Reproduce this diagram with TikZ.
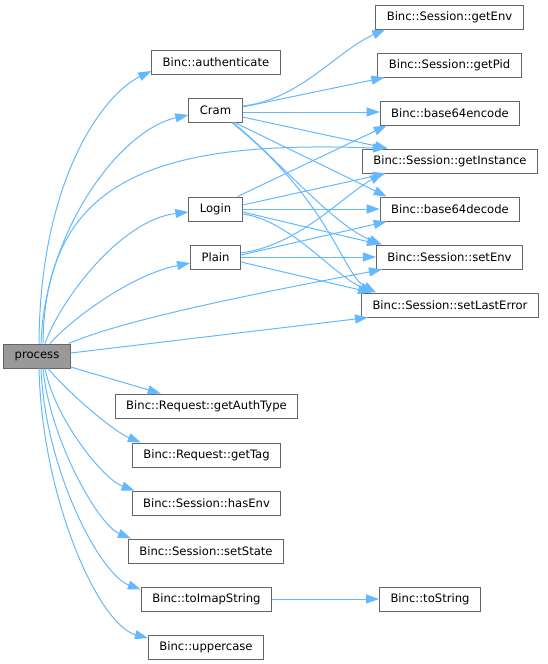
\documentclass[tikz,border=0pt]{standalone}
\usepackage{fontspec}
\setmainfont{DejaVu Sans}
\usetikzlibrary{arrows.meta,positioning}
\definecolor{edgeblue}{HTML}{63B8FF}
\definecolor{boxgray}{HTML}{666666}
\definecolor{procfill}{HTML}{999999}

\begin{document}
\begin{tikzpicture}[x=1pt,y=1pt,
    fn/.style={draw=boxgray, line width=1pt, fill=white, minimum height=24pt,
      inner xsep=11pt, inner ysep=0pt, font=\fontsize{11.6}{13}\selectfont},
    call/.style={draw=edgeblue, line width=1pt, -{Triangle[length=13pt,width=9pt]}}]
  \useasboundingbox (0,0) rectangle (547,-664);
  % caller
  \node[fn, fill=procfill] (process) at (37,-356) {process};
  % first level
  \node[fn] (auth) at (216,-62) {Binc::authenticate};
  \node[fn] (cram) at (215.5,-110) {Cram};
  \node[fn] (login) at (215.5,-209) {Login};
  \node[fn] (plain) at (215.5,-257) {Plain};
  \node[fn] (getauth) at (206.5,-406) {Binc::Request::getAuthType};
  \node[fn] (gettag) at (206.5,-455) {Binc::Request::getTag};
  \node[fn] (hasenv) at (206.5,-503) {Binc::Session::hasEnv};
  \node[fn] (setstate) at (206,-551) {Binc::Session::setState};
  \node[fn] (toimap) at (206.5,-599) {Binc::toImapString};
  \node[fn] (upper) at (206,-647) {Binc::uppercase};
  % second level
  \node[fn] (getenv) at (449.5,-17) {Binc::Session::getEnv};
  \node[fn] (getpid) at (449.5,-65) {Binc::Session::getPid};
  \node[fn] (b64enc) at (450,-113) {Binc::base64encode};
  \node[fn] (getinst) at (450,-161) {Binc::Session::getInstance};
  \node[fn] (b64dec) at (450,-209) {Binc::base64decode};
  \node[fn] (setenv) at (449.5,-257) {Binc::Session::setEnv};
  \node[fn] (setlasterr) at (450,-305) {Binc::Session::setLastError};
  \node[fn] (tostring) at (430,-599) {Binc::toString};

  % calls from process
  \draw[call] ([xshift=2pt]process.north) .. controls +(1,163) and +(-49,-24) .. ([yshift=-9pt]auth.west);
  \draw[call] ([xshift=4pt]process.north) .. controls +(4,113) and +(-68,-15) .. ([yshift=-5pt]cram.west);
  \draw[call] ([xshift=6pt]process.north) .. controls +(2,163) and +(-233,9) .. ([xshift=24pt]getinst.north west);
  \draw[call] ([xshift=8pt]process.north) .. controls +(15,43) and +(-68,-8) .. ([yshift=-3pt]login.west);
  \draw[call] ([xshift=13pt]process.north) .. controls +(20,23) and +(-60,-12) .. ([yshift=-6pt]plain.west);
  \draw[call] ([xshift=-2pt]process.north east) .. controls +(60,26) and +(-100,-19) .. ([xshift=6pt]setenv.south west);
  \draw[call] ([yshift=3pt]process.east) -- ([xshift=7pt]setlasterr.south west);
  \draw[call] ([yshift=-11pt]process.east) -- ([xshift=46pt]getauth.north west);
  \draw[call] ([xshift=11pt]process.south) .. controls +(22,-26) and +(-27,11) .. ([xshift=9pt]gettag.north west);
  \draw[call] ([xshift=8pt]process.south) .. controls +(10,-51) and +(-31,11) .. ([xshift=3pt]hasenv.north west);
  \draw[call] ([xshift=6pt]process.south) .. controls +(7,-71) and +(-33,14) .. ([xshift=3pt]setstate.north west);
  \draw[call] ([xshift=4pt]process.south) .. controls +(4,-101) and +(-41,15) .. ([yshift=-3pt]toimap.north west);
  \draw[call] ([xshift=2pt]process.south) .. controls +(3,-131) and +(-49,13) .. ([yshift=9pt]upper.west);

  % calls from Cram
  \draw[call] ([yshift=4pt]cram.east) .. controls +(57,6) and +(-48,-21) .. ([xshift=10pt]getenv.south west);
  \draw[call] ([yshift=3pt]cram.east) -- ([xshift=7pt]getpid.south west);
  \draw[call] ([yshift=-2pt]cram.east) -- ([yshift=1pt]b64enc.west);
  \draw[call] ([yshift=-7pt]cram.east) -- ([xshift=26pt]getinst.north west);
  \draw[call] ([xshift=-8pt]cram.south east) -- ([xshift=7pt]b64dec.north west);
  \draw[call] ([xshift=-10pt]cram.south east) .. controls +(42,-33) and +(-50,20) .. ([xshift=6pt]setenv.north west);
  \draw[call] ([xshift=-11pt]cram.south east) .. controls +(98,-78) and +(-33,18) .. ([xshift=15pt]setlasterr.north west);

  % calls from Login
  \draw[call] ([xshift=-5pt]login.north east) -- ([xshift=7pt]b64enc.south west);
  \draw[call] ([yshift=4pt]login.east) -- ([xshift=24pt]getinst.south west);
  \draw[call] (login.east) -- (b64dec.west);
  \draw[call] ([yshift=-3pt]login.east) -- ([xshift=4pt]setenv.north west);
  \draw[call] ([yshift=-5pt]login.east) .. controls +(47,-6) and +(-40,18) .. ([xshift=12pt]setlasterr.north west);

  % calls from Plain
  \draw[call] ([yshift=4pt]plain.east) .. controls +(59,8) and +(-40,-22) .. ([xshift=21pt]getinst.south west);
  \draw[call] ([yshift=2pt]plain.east) -- ([xshift=7pt]b64dec.south west);
  \draw[call] (plain.east) -- (setenv.west);
  \draw[call] ([yshift=-5pt]plain.east) -- ([xshift=10pt]setlasterr.north west);

  % toImapString
  \draw[call] (toimap.east) -- (tostring.west);
\end{tikzpicture}
\end{document}
